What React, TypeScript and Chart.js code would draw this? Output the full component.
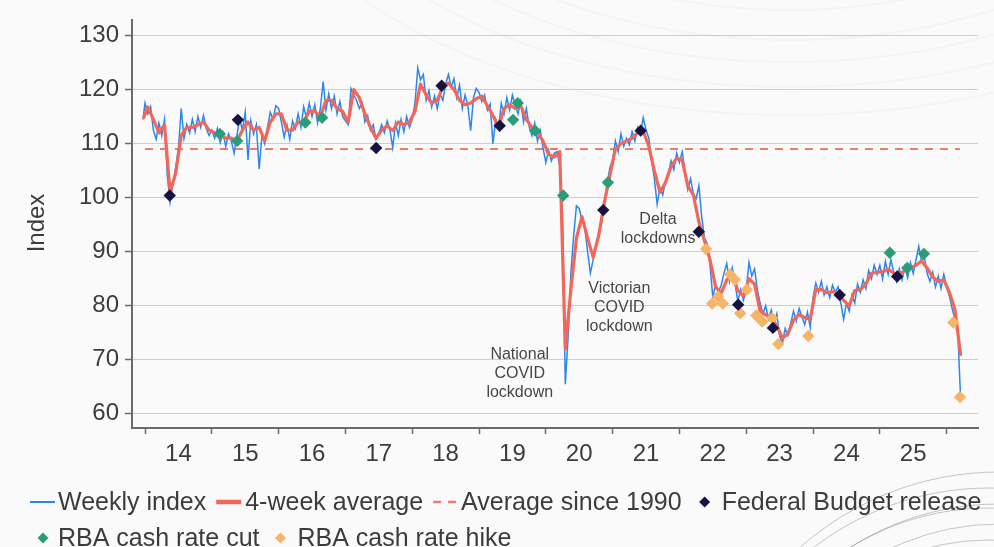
import React, { useEffect, useRef } from 'react';
import { Chart, registerables } from 'chart.js';

Chart.register(...registerables);

const FONT = '"Liberation Sans", Arial, Helvetica, sans-serif';

// ---- Weekly index (read roughly twice a month) ----
const weeklyDec2013 = 114.5;
const weekly2014 = [117.5, 115.5, 116.8, 112.5, 110.8, 113.8, 111.5, 114.5, 104, 99.2, 102.5, 105.5, 109, 116.5, 111, 113.6, 112, 114.5, 112.2, 115, 113, 115.2, 112.8, 111.5];
const weekly2015 = [112.5, 111, 112.8, 110.2, 112, 109.5, 111.8, 110.5, 108.2, 111.5, 114.5, 112.5, 115.8, 107, 114.2, 111.8, 113.5, 105.3, 111.5, 110, 113, 115.8, 114.5, 117];
const weekly2016 = [116.5, 114, 111.2, 113.5, 110.8, 114.2, 112.8, 115.5, 113, 116.8, 114.8, 117.5, 115, 117.2, 113.8, 116.5, 121.5, 116.2, 119.2, 116.5, 118.8, 115.5, 117.8, 115];
const weekly2017 = [114.2, 113.5, 120.2, 119, 118, 116.5, 117.5, 114, 115.2, 112.5, 113.5, 110.8, 111.8, 113.5, 112, 114.2, 112.5, 109.3, 113.8, 111.5, 114.5, 112.2, 115, 113];
const weekly2018 = [114.5, 117.5, 124, 121.8, 122.8, 118, 119.8, 116.8, 118.8, 116.5, 119.2, 118, 121, 122.8, 120.5, 122, 118.5, 120.8, 116.5, 119, 117, 112.4, 118.5, 120.2];
const weekly2019 = [119.5, 117.8, 119, 116.2, 117.3, 110, 114.5, 112.8, 117.5, 115.5, 118.5, 116.2, 119, 117.2, 115.5, 117.8, 114, 116.5, 113.2, 111.5, 113.8, 110.5, 112.5, 109.2];
const weekly2020 = [106.5, 108.8, 106.8, 108.2, 108.5, 106, 97, 65.5, 74, 86, 93, 98.5, 98, 95.8, 94.5, 90, 86, 88.5, 91, 93.5, 95.5, 99, 102.5, 105.5];
const weekly2021 = [107, 110.5, 108.5, 111.8, 109.5, 111, 109.8, 112.2, 110.5, 113, 111.8, 114.8, 112.5, 111, 107, 103.5, 98.8, 101.8, 100.5, 103, 104.5, 106.8, 105.2, 108.2];
const weekly2022 = [106.5, 108.5, 105, 101.5, 103.5, 100.8, 99.8, 102.2, 96.5, 92.5, 91.5, 87.5, 81.5, 84, 82.5, 83.8, 86, 87.8, 84.5, 87, 84, 80.8, 83, 81];
const weekly2023 = [83, 88, 85.5, 86.8, 83, 80.5, 78.5, 80, 77.5, 79.2, 76.8, 78.5, 74.5, 73, 75.8, 74.5, 76.8, 79, 77.2, 79.5, 78, 76.5, 78.8, 76];
const weekly2024 = [81.5, 84.2, 82.5, 84.5, 82, 83.5, 81.5, 83.8, 82.5, 83.5, 80.5, 77.5, 80.5, 79, 82, 80.5, 84, 82.5, 84.8, 83.2, 86.5, 85, 87.5, 85.8];
const weekly2025 = [87.5, 85, 88.2, 85.8, 88.5, 86.2, 84.5, 86.8, 84.8, 87.2, 85.2, 88, 86, 88.5, 91, 88.2, 89, 86, 84.5, 86.2, 83.5, 85.5, 83.2, 85.8];
const weekly2026 = [83.5, 81.8, 79.5, 77.5, 75.5, 63.2];

// ---- 4-week average (read monthly) ----
const avgDec2013 = 114.8;
const avg2014 = [116.8, 114.5, 112, 113.5, 101, 104.5, 111.5, 113, 113, 113.5, 114, 112.5];
const avg2015 = [112, 111.5, 111, 111, 110.5, 112.5, 114, 112.5, 113, 110.5, 114, 115.5];
const avg2016 = [115.5, 112.5, 112.5, 114, 114, 116, 116, 115, 118, 118, 116.5, 116];
const avg2017 = [114, 120, 118.5, 115.5, 113, 111, 112.5, 113.3, 112.4, 114, 113.5, 114];
const avg2018 = [116, 121, 119, 117.5, 118, 120.5, 121.2, 120, 118, 117.2, 117.5, 118.3];
const avg2019 = [118.8, 117, 115.2, 113, 116.5, 117.2, 116.5, 117, 114.5, 113, 112, 110.5];
const avg2020 = [108, 107.5, 108.5, 72, 83, 92.5, 96.5, 92.5, 89, 93, 99, 104];
const avg2021 = [109, 110, 110.5, 111, 112, 112.3, 109.5, 105, 101, 102.8, 105.8, 107.3];
const avg2022 = [107, 102.2, 100.5, 95.5, 92, 88.5, 83.5, 82.3, 84.8, 85.8, 82.8, 81.8];
const avg2023 = [85, 84, 79, 78.3, 77.7, 76.3, 74, 74.8, 77.4, 78.4, 77.8, 77.5];
const avg2024 = [83, 83, 82.4, 82.6, 82.4, 81, 80, 82.8, 83, 84, 86, 86.2];
const avg2025 = [86.3, 86.8, 86, 85.8, 86.5, 87, 87.5, 88.3, 87, 85.3, 84.5, 84.8];
const avg2026 = [82.5, 79.3, 71];

// ---- Average since 1990 ----
const longRunAverage = 109;
const longRunSpan = [2014.0, 2026.2];

// ---- Event markers ----
const budgetDates = [2014.37, 2015.39, 2017.46, 2018.44, 2019.31, 2020.86, 2021.42, 2022.29, 2022.88, 2023.4, 2024.4, 2025.26];
const budgetValues = [100.4, 114.4, 109.2, 120.7, 113.3, 97.7, 112.4, 93.7, 80.2, 75.9, 82, 85.4];
const cutDates = [2015.12, 2015.38, 2016.4, 2016.65, 2019.51, 2019.58, 2019.84, 2020.26, 2020.93, 2025.15, 2025.41, 2025.66];
const cutValues = [111.8, 110.5, 113.9, 114.8, 114.4, 117.5, 112.4, 100.4, 102.8, 89.8, 87, 89.6];
const hikeDates = [2022.4, 2022.49, 2022.58, 2022.65, 2022.76, 2022.83, 2022.91, 2023.01, 2023.15, 2023.24, 2023.39, 2023.48, 2023.93, 2026.1, 2026.2];
const hikeValues = [90.5, 80.4, 81.7, 80.4, 85.8, 84.8, 78.6, 83, 78.2, 77.1, 77.7, 72.9, 74.4, 76.9, 63.1];

// ---- Axis ----
const xMin = 2013.805;
const xMax = 2026.47;
const yMin = 57.38;
const yMax = 132.8;

// ---- Annotations ----
const annotations = [
  { x: 2019.61, y: 70.9, lines: ['National', 'COVID', 'lockdown'] },
  { x: 2021.1, y: 83.2, lines: ['Victorian', 'COVID', 'lockdown'] },
  { x: 2021.68, y: 95.9, lines: ['Delta', 'lockdowns'] },
];

const COLORS = {
  weekly: '#2f86ea',
  avg: '#f2675a',
  longRun: '#f47a6e',
  budget: '#17123f',
  cut: '#2a9d78',
  hike: '#f6b466',
  text: '#3c3c3c',
  axis: '#6a6a6a',
  grid: '#cdcdcd',
};

const weeklyYears: [number, number[]][] = [
  [2014, weekly2014], [2015, weekly2015], [2016, weekly2016], [2017, weekly2017],
  [2018, weekly2018], [2019, weekly2019], [2020, weekly2020], [2021, weekly2021],
  [2022, weekly2022], [2023, weekly2023], [2024, weekly2024], [2025, weekly2025],
  [2026, weekly2026],
];
const avgYears: [number, number[]][] = [
  [2014, avg2014], [2015, avg2015], [2016, avg2016], [2017, avg2017],
  [2018, avg2018], [2019, avg2019], [2020, avg2020], [2021, avg2021],
  [2022, avg2022], [2023, avg2023], [2024, avg2024], [2025, avg2025],
  [2026, avg2026],
];

const weeklyPoints = [
  { x: 2013.97, y: weeklyDec2013 },
  ...weeklyYears.flatMap(([yr, vals]) => vals.map((v, i) => ({ x: yr + i / 24, y: v }))),
];
const avgPoints = [
  { x: 2013.98, y: avgDec2013 },
  ...avgYears.flatMap(([yr, vals]) => vals.map((v, m) => ({ x: yr + (m + 0.5) / 12, y: v }))),
];
const toPoints = (xs: number[], ys: number[]) => xs.map((x, i) => ({ x, y: ys[i] }));

type LegendItem = {
  label: string;
  kind: 'line' | 'dash' | 'diamond';
  color: string;
  width?: number;
  pre: number;
  sym: number;
  post: number;
};
const legendRow1: LegendItem[] = [
  { label: 'Weekly index', kind: 'line', color: COLORS.weekly, width: 2, pre: 0, sym: 25, post: 3 },
  { label: '4-week average', kind: 'line', color: COLORS.avg, width: 4.5, pre: 10, sym: 25, post: 4 },
  { label: 'Average since 1990', kind: 'dash', color: COLORS.longRun, width: 2.5, pre: 10, sym: 23, post: 5 },
  { label: 'Federal Budget release', kind: 'diamond', color: COLORS.budget, pre: 18, sym: 10, post: 12 },
];
const legendRow2: LegendItem[] = [
  { label: 'RBA cash rate cut', kind: 'diamond', color: COLORS.cut, pre: 0, sym: 10, post: 10 },
  { label: 'RBA cash rate hike', kind: 'diamond', color: COLORS.hike, pre: 16, sym: 10, post: 12 },
];

function diamond(ctx: CanvasRenderingContext2D, cx: number, cy: number, r: number, color: string) {
  ctx.beginPath();
  ctx.moveTo(cx, cy - r);
  ctx.lineTo(cx + r, cy);
  ctx.lineTo(cx, cy + r);
  ctx.lineTo(cx - r, cy);
  ctx.closePath();
  ctx.fillStyle = color;
  ctx.fill();
}

const decorPlugin = {
  id: 'decor',
  beforeDraw(chart: any) {
    const { ctx, width, height } = chart;
    ctx.save();
    ctx.fillStyle = '#fafafa';
    ctx.fillRect(0, 0, width, height);
    // faint background arcs (slide decoration)
    ctx.strokeStyle = 'rgba(0,0,0,0.022)';
    ctx.lineWidth = 2.5;
    [210, 240, 262, 287, 315].forEach((ry) => {
      ctx.beginPath();
      ctx.ellipse(790, -200, ry * 1.75, ry, 0, 0, Math.PI);
      ctx.stroke();
    });
    ctx.strokeStyle = 'rgba(80,80,80,0.4)';
    ctx.lineWidth = 0.8;
    [240, 252, 264, 276, 288, 300].forEach((r, i) => {
      ctx.beginPath();
      ctx.arc(989 + (i % 2) * 10, 780 - (i % 3) * 4, r, Math.PI, 2 * Math.PI);
      ctx.stroke();
    });
    ctx.restore();
  },
  beforeDatasetsDraw(chart: any) {
    const { ctx } = chart;
    const xs = chart.scales.x;
    const ys = chart.scales.y;
    ctx.save();
    ctx.font = `16px ${FONT}`;
    ctx.fillStyle = '#474747';
    ctx.textAlign = 'center';
    ctx.textBaseline = 'middle';
    annotations.forEach((a) => {
      const px = xs.getPixelForValue(a.x);
      const py = ys.getPixelForValue(a.y);
      a.lines.forEach((t, i) => ctx.fillText(t, px, py + i * 19));
    });
    ctx.restore();
  },
  afterDraw(chart: any) {
    const { ctx } = chart;
    ctx.save();
    ctx.translate(37, 223);
    ctx.rotate(-Math.PI / 2);
    ctx.font = `24px ${FONT}`;
    ctx.fillStyle = COLORS.text;
    ctx.textAlign = 'center';
    ctx.textBaseline = 'middle';
    ctx.fillText('Index', 0, 0);
    ctx.restore();

    const drawRow = (items: LegendItem[], startX: number, y: number) => {
      let x = startX;
      ctx.save();
      ctx.font = `25px ${FONT}`;
      ctx.textBaseline = 'middle';
      ctx.textAlign = 'left';
      items.forEach((it) => {
        x += it.pre;
        if (it.kind === 'line') {
          ctx.strokeStyle = it.color;
          ctx.lineWidth = it.width || 2;
          ctx.setLineDash([]);
          ctx.beginPath();
          ctx.moveTo(x, y);
          ctx.lineTo(x + it.sym, y);
          ctx.stroke();
        } else if (it.kind === 'dash') {
          ctx.strokeStyle = it.color;
          ctx.lineWidth = it.width || 2;
          ctx.setLineDash([8, 7]);
          ctx.beginPath();
          ctx.moveTo(x, y);
          ctx.lineTo(x + it.sym, y);
          ctx.stroke();
          ctx.setLineDash([]);
        } else {
          diamond(ctx, x + it.sym / 2, y, 5.5, it.color);
        }
        x += it.sym + it.post;
        ctx.fillStyle = COLORS.text;
        ctx.fillText(it.label, x, y + 1);
        x += ctx.measureText(it.label).width;
      });
      ctx.restore();
    };
    drawRow(legendRow1, 30, 502);
    drawRow(legendRow2, 38, 538);
  },
};

const isWhole = (v: number) => Math.abs(v - Math.round(v)) < 1e-6;

const markerStyle = (color: string) => ({
  showLine: false,
  pointStyle: 'rectRot' as const,
  pointRadius: 6.2,
  pointBackgroundColor: color,
  pointBorderColor: color,
  pointBorderWidth: 0,
  order: 0,
});

export default function App() {
  const ref = useRef<HTMLCanvasElement | null>(null);
  useEffect(() => {
    if (!ref.current) return;
    const chart = new Chart(ref.current, {
      type: 'line',
      data: {
        datasets: [
          { label: 'Federal Budget release', data: toPoints(budgetDates, budgetValues), ...markerStyle(COLORS.budget) },
          { label: 'RBA cash rate cut', data: toPoints(cutDates, cutValues), ...markerStyle(COLORS.cut) },
          { label: 'RBA cash rate hike', data: toPoints(hikeDates, hikeValues), ...markerStyle(COLORS.hike) },
          {
            label: '4-week average',
            data: avgPoints,
            borderColor: COLORS.avg,
            borderWidth: 3.2,
            pointRadius: 0,
            tension: 0,
            borderJoinStyle: 'round',
            borderCapStyle: 'round',
            order: 1,
          },
          {
            label: 'Weekly index',
            data: weeklyPoints,
            borderColor: COLORS.weekly,
            borderWidth: 1.5,
            pointRadius: 0,
            tension: 0,
            order: 2,
          },
          {
            label: 'Average since 1990',
            data: longRunSpan.map((x) => ({ x, y: longRunAverage })),
            borderColor: COLORS.longRun,
            borderWidth: 2.2,
            borderDash: [8, 7],
            pointRadius: 0,
            order: 3,
          },
        ],
      },
      options: {
        animation: false,
        responsive: true,
        maintainAspectRatio: false,
        events: [],
        layout: { padding: { top: 17, right: 16, left: 0, bottom: 0 } },
        plugins: { legend: { display: false }, tooltip: { enabled: false } },
        scales: {
          x: {
            type: 'linear',
            min: xMin,
            max: xMax,
            afterFit: (s: any) => { s.height = 132; },
            border: { display: true, color: COLORS.axis, width: 2 },
            grid: {
              drawOnChartArea: false,
              drawTicks: true,
              tickLength: 6,
              tickWidth: 1.5,
              tickColor: (c: any) => (c.tick && isWhole(c.tick.value) ? COLORS.axis : 'rgba(0,0,0,0)'),
            },
            ticks: {
              stepSize: 0.5,
              includeBounds: false,
              autoSkip: false,
              maxRotation: 0,
              padding: 6,
              color: COLORS.text,
              font: { family: FONT, size: 24 },
              callback: (v: any) => {
                const n = Number(v);
                return isWhole(n) ? '' : String(Math.floor(n) % 100);
              },
            },
          },
          y: {
            type: 'linear',
            min: yMin,
            max: yMax,
            afterFit: (s: any) => { s.width = 132; },
            border: { display: true, color: COLORS.axis, width: 2 },
            grid: {
              color: COLORS.grid,
              lineWidth: 1,
              borderDash: [1.5, 2.5],
              tickLength: 7,
              tickWidth: 1.5,
              tickColor: COLORS.axis,
              tickBorderDash: [],
            },
            ticks: {
              stepSize: 10,
              includeBounds: false,
              padding: 6,
              color: COLORS.text,
              font: { family: FONT, size: 24 },
            },
          },
        },
      },
      plugins: [decorPlugin],
    });
    return () => chart.destroy();
  }, []);
  return (
    <div style={{ position: 'fixed', left: 0, top: 0, width: 994, height: 560, background: '#fafafa' }}>
      <canvas ref={ref} />
    </div>
  );
}
